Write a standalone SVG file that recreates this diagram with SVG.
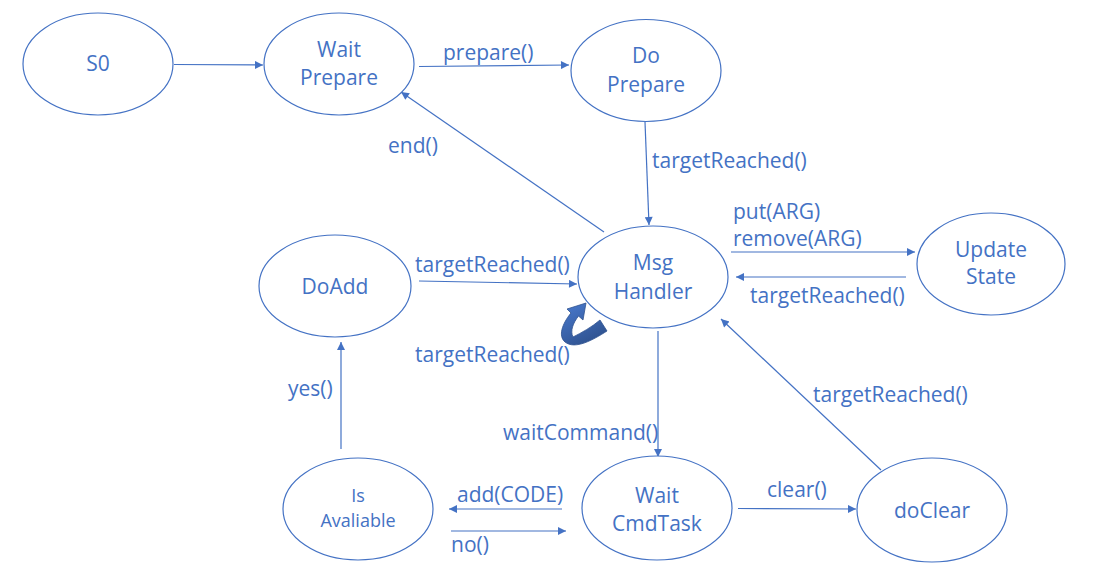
<svg xmlns="http://www.w3.org/2000/svg" width="1093" height="579" viewBox="0 0 1093 579">
<defs>
<style>
.node ellipse{fill:#ffffff;stroke:#4472C4;stroke-width:1.2}
text{font-family:"Open Sans","Noto Sans","DejaVu Sans",sans-serif;fill:#4472C4}
.nt{font-size:21px;text-anchor:middle}
.lb{font-size:21px}
.edge{stroke:#4472C4;stroke-width:1.2;fill:none;marker-end:url(#ah)}
</style>
<marker id="ah" viewBox="0 0 10 10" refX="10" refY="5" markerWidth="10" markerHeight="8" markerUnits="userSpaceOnUse" orient="auto">
<path d="M0,0 L10,5 L0,10 z" fill="#4472C4"/>
</marker>
<linearGradient id="cg" x1="0" y1="0" x2="0.6" y2="1">
<stop offset="0" stop-color="#4A7BD0"/>
<stop offset="1" stop-color="#2F528F"/>
</linearGradient>
</defs>
<rect width="1093" height="579" fill="#ffffff"/>

<g id="connectors">
<line class="edge" x1="174" y1="64.5" x2="263" y2="65"/>
<line class="edge" x1="419" y1="66.5" x2="569" y2="65"/>
<line class="edge" x1="645" y1="122" x2="649" y2="225"/>
<line class="edge" x1="604" y1="232" x2="401" y2="92"/>
<line class="edge" x1="731" y1="252" x2="915" y2="252"/>
<line class="edge" x1="906" y1="277" x2="736" y2="277"/>
<line class="edge" x1="419" y1="281" x2="577" y2="284"/>
<line class="edge" x1="658" y1="331" x2="658" y2="457"/>
<line class="edge" x1="562" y1="509" x2="449" y2="509"/>
<line class="edge" x1="451" y1="531" x2="566" y2="531"/>
<line class="edge" x1="341" y1="449" x2="341" y2="342"/>
<line class="edge" x1="738" y1="508.5" x2="856" y2="509"/>
<line class="edge" x1="881" y1="470" x2="721" y2="319"/>
<path id="selfloop" d="M586,303 L583,320 L578.5,316 C573,323 570,331 573,337 C581,333 592,327 600,320 L607,331 C593,340 575,350 565,342 C558,336 562,324 571,313 L567,309 Z" fill="url(#cg)" stroke="#2F528F" stroke-width="0.8"/>
</g>

<g id="labels">
<text class="lb" x="443" y="60">prepare()</text>
<text class="lb" x="652" y="168">targetReached()</text>
<text class="lb" x="388" y="153">end()</text>
<text class="lb" x="733" y="219">put(ARG)</text>
<text class="lb" x="733" y="246">remove(ARG)</text>
<text class="lb" x="750" y="303">targetReached()</text>
<text class="lb" x="415" y="272">targetReached()</text>
<text class="lb" x="415" y="362">targetReached()</text>
<text class="lb" x="503" y="440">waitCommand()</text>
<text class="lb" x="457" y="502">add(CODE)</text>
<text class="lb" x="451" y="552">no()</text>
<text class="lb" x="288" y="396">yes()</text>
<text class="lb" x="767" y="497">clear()</text>
<text class="lb" x="813" y="402">targetReached()</text>
</g>

<g id="S0" class="node"><ellipse cx="98" cy="64" rx="75" ry="51"/><text class="nt" x="98" y="71">S0</text></g>
<g id="WaitPrepare" class="node"><ellipse cx="339" cy="64" rx="75" ry="51"/><text class="nt" x="339" y="57">Wait</text><text class="nt" x="339" y="85">Prepare</text></g>
<g id="DoPrepare" class="node"><ellipse cx="646" cy="70.5" rx="75" ry="51"/><text class="nt" x="646" y="63">Do</text><text class="nt" x="646" y="92">Prepare</text></g>
<g id="MsgHandler" class="node"><ellipse cx="653" cy="277" rx="75" ry="51"/><text class="nt" x="653" y="270">Msg</text><text class="nt" x="653" y="299">Handler</text></g>
<g id="DoAdd" class="node"><ellipse cx="335" cy="286" rx="76" ry="51"/><text class="nt" x="335" y="294">DoAdd</text></g>
<g id="UpdateState" class="node"><ellipse cx="991" cy="264" rx="74" ry="51"/><text class="nt" x="991" y="257">Update</text><text class="nt" x="991" y="284">State</text></g>
<g id="IsAvaliable" class="node"><ellipse cx="358" cy="509" rx="75" ry="51"/><text class="nt" x="358" y="502" style="font-size:18px">Is</text><text class="nt" x="358" y="527" style="font-size:18px">Avaliable</text></g>
<g id="WaitCmdTask" class="node"><ellipse cx="657" cy="508" rx="75" ry="52"/><text class="nt" x="657" y="503">Wait</text><text class="nt" x="657" y="531">CmdTask</text></g>
<g id="doClear" class="node"><ellipse cx="932" cy="510" rx="75" ry="52"/><text class="nt" x="932" y="518">doClear</text></g>
</svg>
